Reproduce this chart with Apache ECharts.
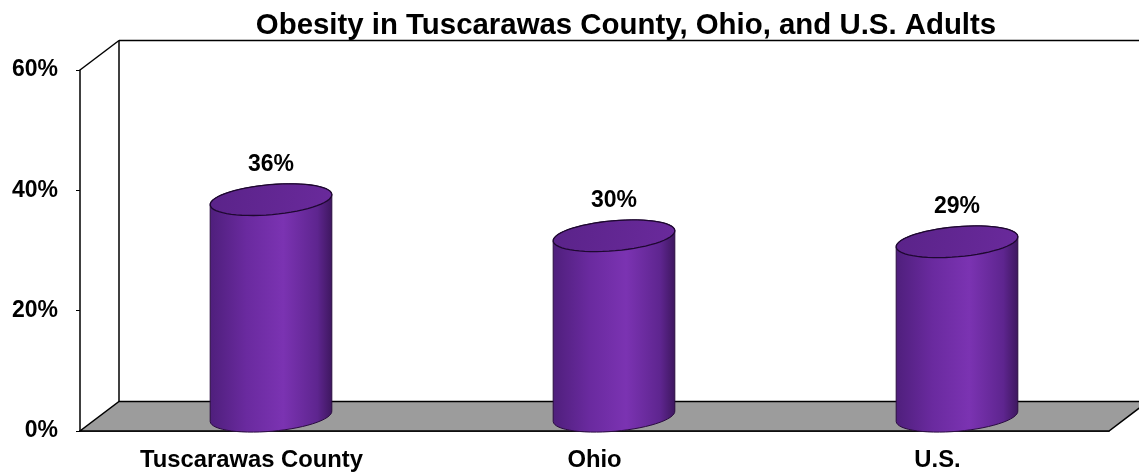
<!DOCTYPE html>
<html>
<head>
<meta charset="utf-8">
<script src="https://cdn.jsdelivr.net/npm/echarts@6/dist/echarts.min.js"></script>
<style>
  html, body { margin: 0; padding: 0; background: #fff; }
  #chart { width: 1139px; height: 472px; }
</style>
</head>
<body>
<div id="chart"></div>
<script>
var categories = ['Tuscarawas County', 'Ohio', 'U.S.'];
var obesityPct = [36, 30, 29];
var yTicks = [0, 20, 40, 60];

var FONT = '"Liberation Sans", Arial, sans-serif';
var DX = 39, DY = -29.5;   // depth offset of the 3D box

function ellipsePts(cx, cy, a, b, t0, t1, n) {
    var th = -5 * Math.PI / 180, pts = [];
    for (var i = 0; i <= n; i++) {
        var t = t0 + (t1 - t0) * i / n;
        var ex = a * Math.cos(t), ey = b * Math.sin(t);
        pts.push([cx + ex * Math.cos(th) - ey * Math.sin(th), cy + ex * Math.sin(th) + ey * Math.cos(th)]);
    }
    return pts;
}

function renderFrame(params, api) {
    var c = params.coordSys;
    var x0 = c.x, x1 = c.x + c.width, yb = c.y + c.height, yt = c.y;
    var line = { stroke: '#000', lineWidth: 1.5 };
    return {
        type: 'group',
        children: [
            { type: 'polygon', shape: { points: [[x0, yb], [x1, yb], [x1 + DX, yb + DY], [x0 + DX, yb + DY]] },
              style: { fill: '#9c9c9c', stroke: '#000', lineWidth: 1.5 } },
            { type: 'line', shape: { x1: x0 + DX, y1: yb + DY, x2: x0 + DX, y2: yt + DY }, style: line },
            { type: 'line', shape: { x1: x0 + DX, y1: yt + DY, x2: x1 + DX, y2: yt + DY }, style: line },
            { type: 'line', shape: { x1: x0, y1: yt, x2: x0 + DX, y2: yt + DY }, style: line }
        ]
    };
}

function renderCylinder(params, api) {
    var idx = api.value(0), val = api.value(1);
    var p0 = api.coord([idx, 0]), pv = api.coord([idx, val]);
    var bw = api.size([1, 0])[0];
    var cx = p0[0] + DX / 2, cyB = p0[1] + DY / 2, cyT = pv[1] + DY / 2;
    var a = bw * 0.178, b = 15;
    var body = ellipsePts(cx, cyB, a, b, 0, Math.PI, 30).concat(ellipsePts(cx, cyT, a, b, Math.PI, 2 * Math.PI, 30));
    var top = ellipsePts(cx, cyT, a, b, 0, 2 * Math.PI, 60);
    return {
        type: 'group',
        children: [
            { type: 'polygon', shape: { points: body },
              style: {
                  fill: new echarts.graphic.LinearGradient(cx - a, 0, cx + a, 0, [
                      { offset: 0, color: '#4f1f7c' },
                      { offset: 0.3, color: '#6a2a9f' },
                      { offset: 0.6, color: '#7b33b2' },
                      { offset: 0.88, color: '#5e258f' },
                      { offset: 1, color: '#3e175f' }
                  ], true),
                  stroke: '#2a0c40', lineWidth: 1 } },
            { type: 'polygon', shape: { points: top },
              style: {
                  fill: new echarts.graphic.LinearGradient(cx - a, cyT - b, cx + a, cyT + b, [
                      { offset: 0, color: '#5a2389' },
                      { offset: 1, color: '#6a2a9c' }
                  ], true),
                  stroke: '#1e0830', lineWidth: 1.3 } },
            { type: 'text', x: cx, y: cyT - 35,
              style: { text: val + '%', fill: '#000', font: 'bold 23px ' + FONT, align: 'center', verticalAlign: 'middle' } }
        ]
    };
}

var chart = echarts.init(document.getElementById('chart'));
chart.setOption({
    animation: false,
    title: {
        text: 'Obesity in Tuscarawas County, Ohio, and U.S. Adults',
        left: 621, top: 6, textAlign: 'center',
        textStyle: { fontFamily: FONT, fontWeight: 'bold', fontSize: 29.4, color: '#000' }
    },
    grid: { left: 80, right: 30, top: 70, bottom: 41 },
    xAxis: {
        type: 'category',
        data: categories,
        boundaryGap: true,
        axisLine: { lineStyle: { color: '#000', width: 1.5 } },
        axisTick: { length: 5, lineStyle: { color: '#000' } },
        axisLabel: { margin: 17, color: '#000', fontFamily: FONT, fontWeight: 'bold', fontSize: 23.8 }
    },
    yAxis: {
        type: 'value',
        min: yTicks[0], max: yTicks[yTicks.length - 1], interval: 20,
        splitLine: { show: false },
        axisLine: { show: true, lineStyle: { color: '#000', width: 1.5 } },
        axisTick: { show: true, length: 4, lineStyle: { color: '#000' } },
        axisLabel: { margin: 22, color: '#000', fontFamily: FONT, fontWeight: 'bold', fontSize: 23, formatter: '{value}%' }
    },
    series: [
        { type: 'custom', z: 1, renderItem: renderFrame, data: [[0, 0]], silent: true },
        { type: 'custom', z: 3, renderItem: renderCylinder,
          data: obesityPct.map(function (v, i) { return [i, v]; }) }
    ]
});
</script>
</body>
</html>
